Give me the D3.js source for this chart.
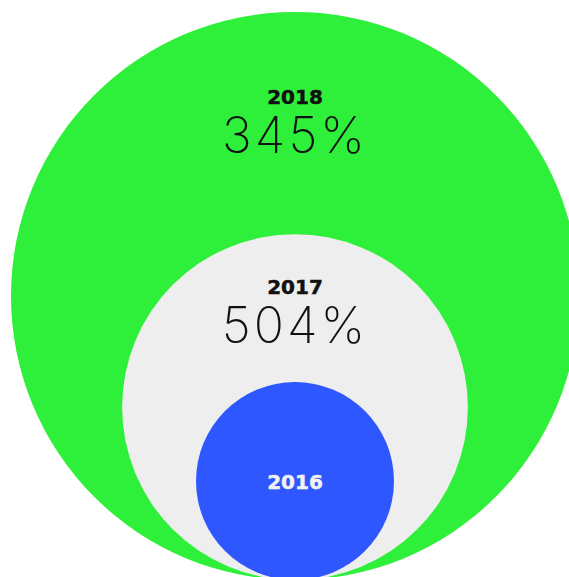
<!DOCTYPE html>
<html>
<head>
<meta charset="utf-8">
<script src="https://cdn.jsdelivr.net/npm/d3@7"></script>
<style>
  html, body { margin: 0; padding: 0; background: #ffffff; overflow: hidden; }
  svg { display: block; }
</style>
</head>
<body>
<svg id="chart" width="569" height="577"></svg>
<script>
// Data
const years = ["2018", "2017", "2016"];
const growthLabels = ["345%", "504%", ""];
const relativeSize = [8.23, 3.05, 1.0]; // relative circle areas (2016 = 1)
const colors = ["#2ef03a", "#eeeeee", "#2e57ff"];
const yearColors = ["#111111", "#111111", "#f2f2f2"];

const svg = d3.select("#chart");
const cx = 295, baseY = 580;

const r = d3.scaleSqrt().domain([0, d3.max(relativeSize)]).range([0, 284]);

const data = years.map((y, i) => ({
  year: y, growth: growthLabels[i], size: relativeSize[i],
  color: colors[i], tcol: yearColors[i]
}));

const yearY = d => baseY - 2 * r(d.size) + 10 + 0.288 * r(d.size);

const g = svg.selectAll("g.bubble").data(data).join("g").attr("class", "bubble");

g.append("circle")
  .attr("cx", cx)
  .attr("cy", d => baseY - r(d.size))
  .attr("r", d => r(d.size))
  .attr("fill", d => d.color);

// year labels
g.append("text")
  .attr("x", cx)
  .attr("y", d => d.growth ? yearY(d) : baseY - r(d.size) + 8)
  .attr("text-anchor", "middle")
  .attr("font-family", "DejaVu Sans")
  .attr("font-weight", "bold")
  .attr("font-size", 20)
  .attr("stroke", d => d.tcol)
  .attr("stroke-width", 0.5)
  .attr("fill", d => d.tcol)
  .text(d => d.year);

// growth labels
g.filter(d => d.growth).append("text")
  .attr("x", cx)
  .attr("y", d => yearY(d) + 49)
  .attr("text-anchor", "middle")
  .attr("font-family", "Inter, Roboto, sans-serif")
  .attr("font-weight", 200)
  .attr("font-size", 50)
  .attr("letter-spacing", 3)
  .attr("fill", "#111111")
  .text(d => d.growth);
</script>
</body>
</html>
